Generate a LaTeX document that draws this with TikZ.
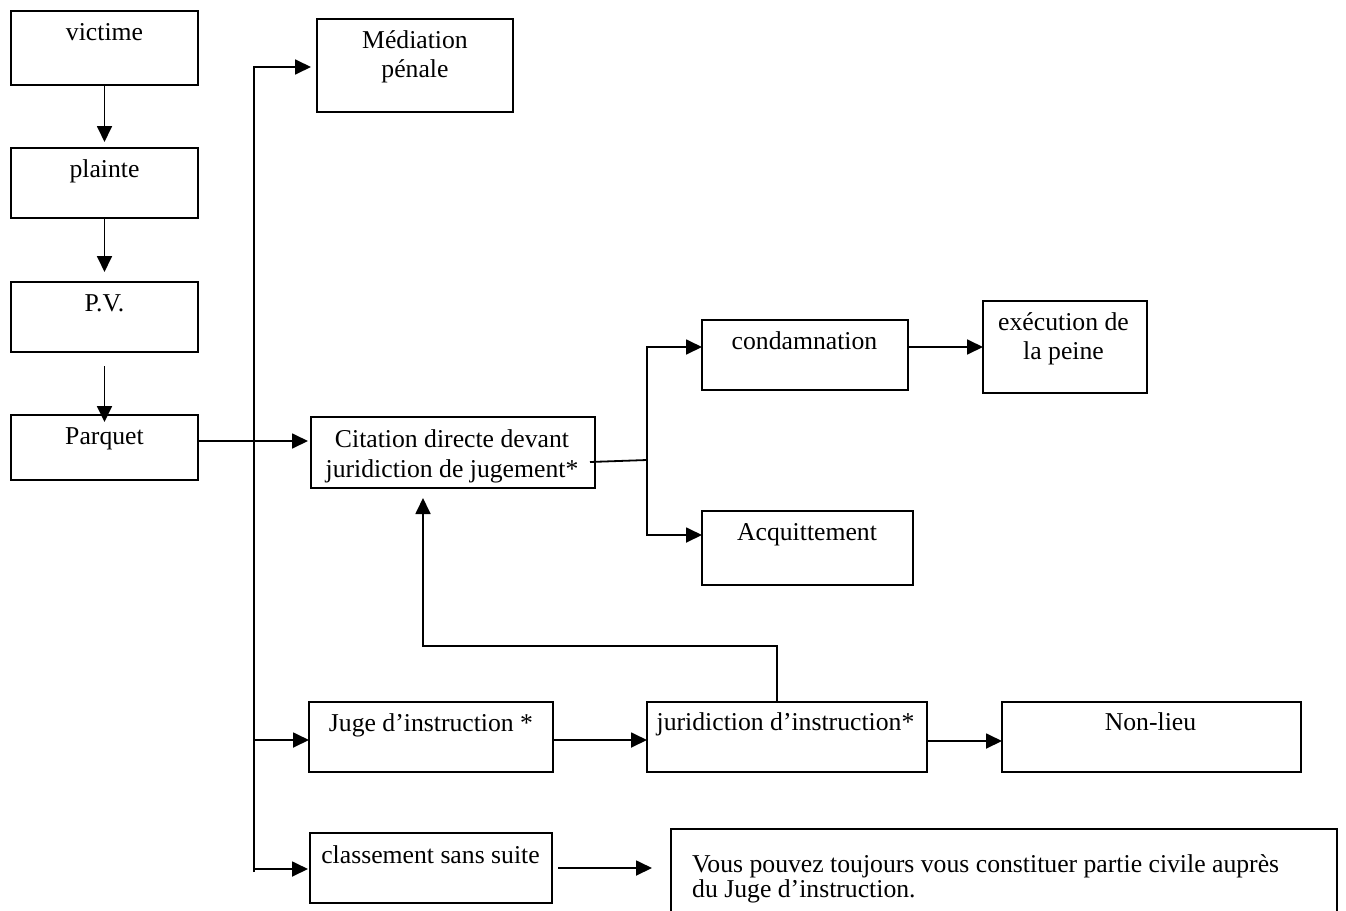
\documentclass[tikz,border=0pt]{standalone}
\usepackage{fontspec}
\setmainfont{Liberation Serif}
\usetikzlibrary{arrows.meta}
\begin{document}
\begin{tikzpicture}[x=1pt,y=-1pt,
  box/.style={draw, line width=1.8pt, inner sep=0pt, outer sep=0pt},
  lbl/.style={anchor=base, inner sep=0pt, font=\fontsize{25.7}{29.5}\selectfont},
  lblw/.style={lbl, anchor=base west},
  conn/.style={line width=1.8pt},
  arr/.style={conn, -{Triangle[length=16pt,width=15pt]}},
]
\path[use as bounding box, clip] (0,0) rectangle (1346,910);
\fill[white] (0,0) rectangle (1346,910);

% boxes
\node[box, minimum width=187pt, minimum height=74pt] (victime) at (104.5,48) {};
\node[box, minimum width=187pt, minimum height=70pt] (plainte) at (104.5,183) {};
\node[box, minimum width=187pt, minimum height=70pt] (pv) at (104.5,317) {};
\node[box, minimum width=187pt, minimum height=65pt] (parquet) at (104.5,447.5) {};
\node[box, minimum width=196pt, minimum height=93pt] (mediation) at (415,65.5) {};
\node[box, minimum width=284pt, minimum height=71pt] (citation) at (453,452.5) {};
\node[box, minimum width=206pt, minimum height=70pt] (condamnation) at (805,355) {};
\node[box, minimum width=164pt, minimum height=92pt] (execution) at (1065,347) {};
\node[box, minimum width=211pt, minimum height=74pt] (acquittement) at (807.5,548) {};
\node[box, minimum width=244pt, minimum height=70pt] (juge) at (431,737) {};
\node[box, minimum width=280pt, minimum height=70pt] (juri) at (787,737) {};
\node[box, minimum width=299pt, minimum height=70pt] (nonlieu) at (1151.5,737) {};
\node[box, minimum width=242pt, minimum height=70pt] (classement) at (431,868) {};
\node[box, minimum width=666pt, minimum height=111pt] (vous) at (1004,884.5) {};

% labels
\node[lbl] (t-victime) at (104.5,40) {victime};
\node[lbl] (t-plainte) at (104.5,177) {plainte};
\node[lbl] (t-pv) at (104.5,311) {P.V.};
\node[lbl] (t-parquet) at (104.5,444) {Parquet};
\node[lbl] (t-med1) at (415,48) {Médiation};
\node[lbl] (t-med2) at (415,77) {pénale};
\node[lbl] (t-cit1) at (452,447) {Citation directe devant};
\node[lbl] (t-cit2) at (452,477) {juridiction de jugement*};
\node[lbl] (t-cond) at (804.5,349) {condamnation};
\node[lbl] (t-exe1) at (1063.5,330) {exécution de};
\node[lbl] (t-exe2) at (1063.5,359) {la peine};
\node[lbl] (t-acq) at (807,540) {Acquittement};
\node[lbl] (t-juge) at (431,731) {Juge d’instruction *};
\node[lbl] (t-juri) at (785.5,730) {juridiction d’instruction*};
\node[lbl] (t-nonlieu) at (1150.5,730) {Non-lieu};
\node[lbl] (t-class) at (430.5,863) {classement sans suite};
\node[lblw] (t-vous1) at (692,872) {Vous pouvez toujours vous constituer partie civile auprès};
\node[lblw] (t-vous2) at (692,897) {du Juge d’instruction.};

% helper coordinates
\coordinate (ttop) at (254,67);
\coordinate (tbot) at (254,872);
\coordinate (y441) at (0,441);
\coordinate (y740) at (0,740);
\coordinate (y741) at (0,741);
\coordinate (y869) at (0,869);
\coordinate (y868) at (0,868);
\coordinate (cst) at (590,462);
\coordinate (jn) at (647,460);
\coordinate (jtop) at (647,347);
\coordinate (jbot) at (647,535);
\coordinate (bk) at (777,646);
\coordinate (bx) at (423,0);

% left column
\draw[arr, shorten >=6pt] (victime) -- (plainte);
\draw[arr, shorten >=10pt] (plainte) -- (pv);
\draw[arr, shorten <=14pt, shorten >=-7pt] (pv) -- (parquet);

% parquet to citation
\draw[arr, shorten >=3pt] (parquet.east |- y441) -- (citation.west |- y441);

% trunk
\draw[arr, shorten >=6pt] (tbot) -- (ttop) -- (mediation.west |- ttop);
\draw[arr] (ttop |- y740) -- (juge.west |- y740);
\draw[arr, shorten >=2pt] (ttop |- y869) -- (classement.west |- y869);

% citation outcomes
\draw[conn] (cst) -- (jn);
\draw[arr] (jn) -- (jtop) -- (condamnation.west |- jtop);
\draw[arr] (jn) -- (jbot) -- (acquittement.west |- jbot);
\draw[arr] (condamnation.east |- jtop) -- (execution.west |- jtop);

% instruction line
\draw[arr] (juge.east |- y740) -- (juri.west |- y740);
\draw[arr] (juri.east |- y741) -- (nonlieu.west |- y741);
\draw[arr, shorten >=10pt] (juri.north -| bk) -- (bk) -- (bx |- bk) -- (citation.south -| bx);

% classement to note
\draw[arr, shorten <=6pt, shorten >=19pt] (classement.east |- y868) -- (vous.west |- y868);
\end{tikzpicture}
\end{document}
